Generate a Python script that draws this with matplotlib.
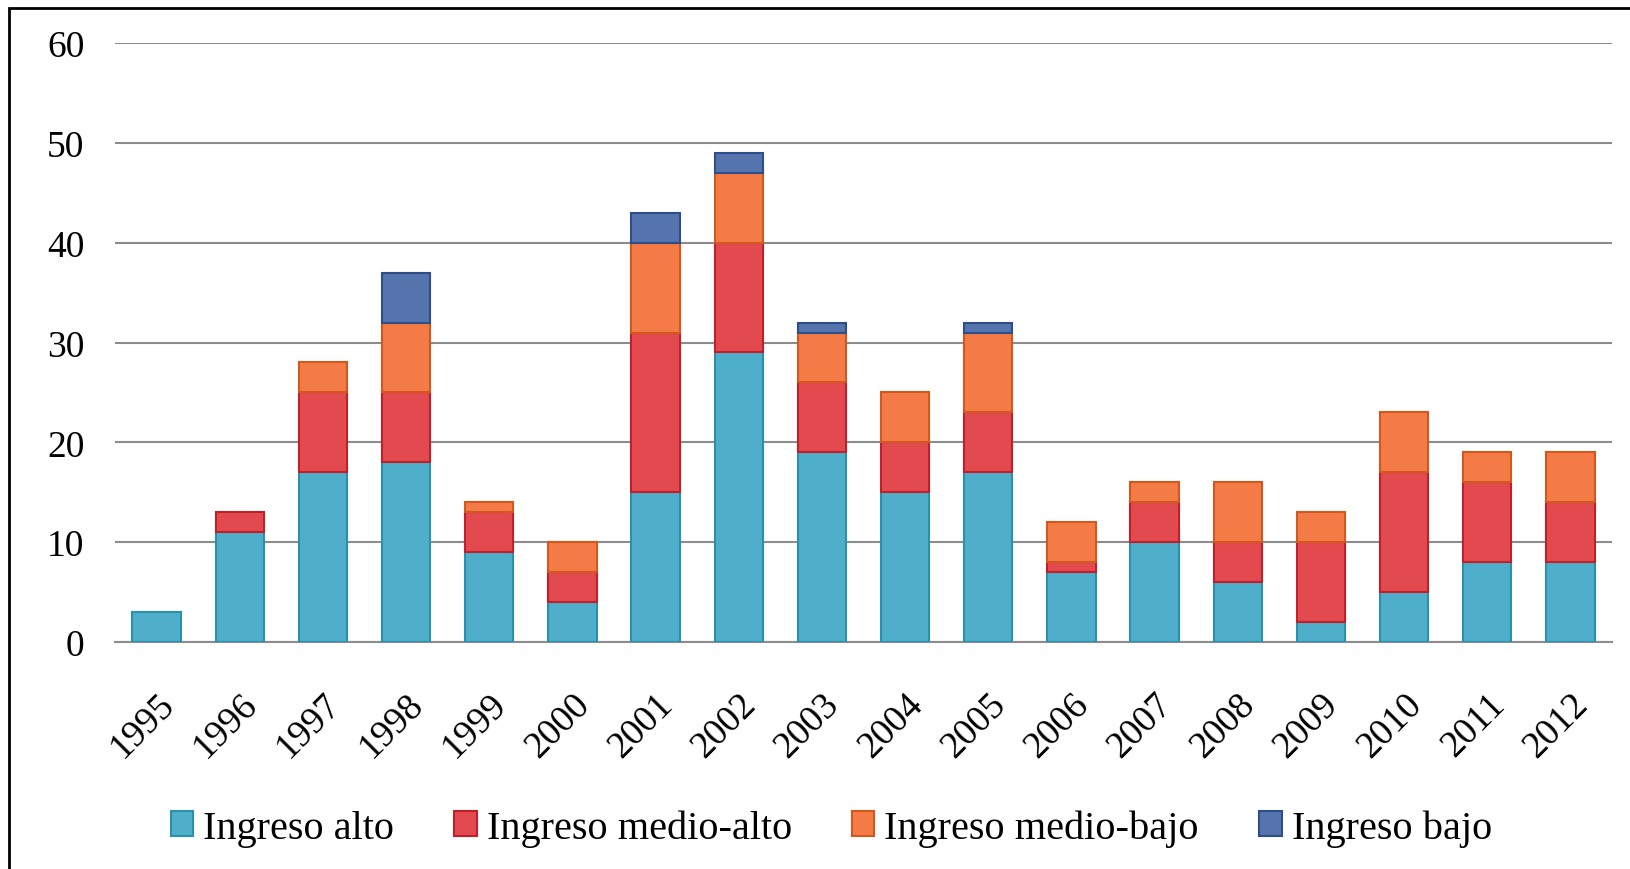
import numpy as np
import matplotlib.pyplot as plt
from matplotlib.patches import Rectangle

# Data
years = [str(y) for y in range(1995, 2013)]
ingreso_alto = [3, 11, 17, 18, 9, 4, 15, 29, 19, 15, 17, 7, 10, 6, 2, 5, 8, 8]
ingreso_medio_alto = [0, 2, 8, 7, 4, 3, 16, 11, 7, 5, 6, 1, 4, 4, 8, 12, 8, 6]
ingreso_medio_bajo = [0, 0, 3, 7, 1, 3, 9, 7, 5, 5, 8, 4, 2, 6, 3, 6, 3, 5]
ingreso_bajo = [0, 0, 0, 5, 0, 0, 3, 2, 1, 0, 1, 0, 0, 0, 0, 0, 0, 0]

series = [
    ("Ingreso alto", ingreso_alto, "#4FAFCB", "#2A90B0"),
    ("Ingreso medio-alto", ingreso_medio_alto, "#E34A4F", "#C21F2A"),
    ("Ingreso medio-bajo", ingreso_medio_bajo, "#F47A46", "#D2581E"),
    ("Ingreso bajo", ingreso_bajo, "#5574AD", "#2D4E8A"),
]

plt.rcParams['font.family'] = ['Liberation Serif', 'DejaVu Serif']

fig = plt.figure(figsize=(16.3, 8.7), dpi=100)
ax = fig.add_axes([115 / 1630, 1 - 643 / 870, (1612 - 115) / 1630, (643 - 44) / 870])

x = np.arange(len(years))
bottom = np.zeros(len(years))
handles = []
for name, vals, color, edge in series:
    vals = np.array(vals, dtype=float)
    mask = vals > 0
    b = ax.bar(x[mask], vals[mask], width=0.58, bottom=bottom[mask], color=color,
               edgecolor=edge, linewidth=1.5, zorder=3, label=name)
    handles.append(b)
    bottom += vals

ax.set_ylim(0, 60)
ax.set_xlim(-0.5, len(years) - 0.5)
ax.set_yticks(range(0, 61, 10))
ax.yaxis.grid(True, color="#8c8c8c", linewidth=1.5, zorder=0)
ax.set_axisbelow(True)
for s in ["top", "right", "left"]:
    ax.spines[s].set_visible(False)
ax.spines["bottom"].set_color("#8c8c8c")
ax.spines["bottom"].set_linewidth(1.5)
ax.tick_params(axis="both", length=0)
ax.tick_params(axis="y", pad=22, labelsize=27)
ax.set_xticks(x)
ax.set_xticklabels(years, rotation=45, ha="right", rotation_mode="anchor")
ax.tick_params(axis="x", pad=32, labelsize=27)

fig.legend(handles=handles, loc="center", bbox_to_anchor=(0.51, 1 - 829 / 870),
           ncol=4, frameon=False, fontsize=29, handlelength=0.55, handleheight=0.55,
           handletextpad=0.25, columnspacing=1.5)

# figure frame (left and top edges visible)
fig.patches.append(Rectangle((9 / 1630, -0.05), 1.2, 1 - 9 / 870 + 0.05,
                             transform=fig.transFigure, fill=False,
                             edgecolor="black", linewidth=2))

fig.savefig("out.png", dpi=100)
